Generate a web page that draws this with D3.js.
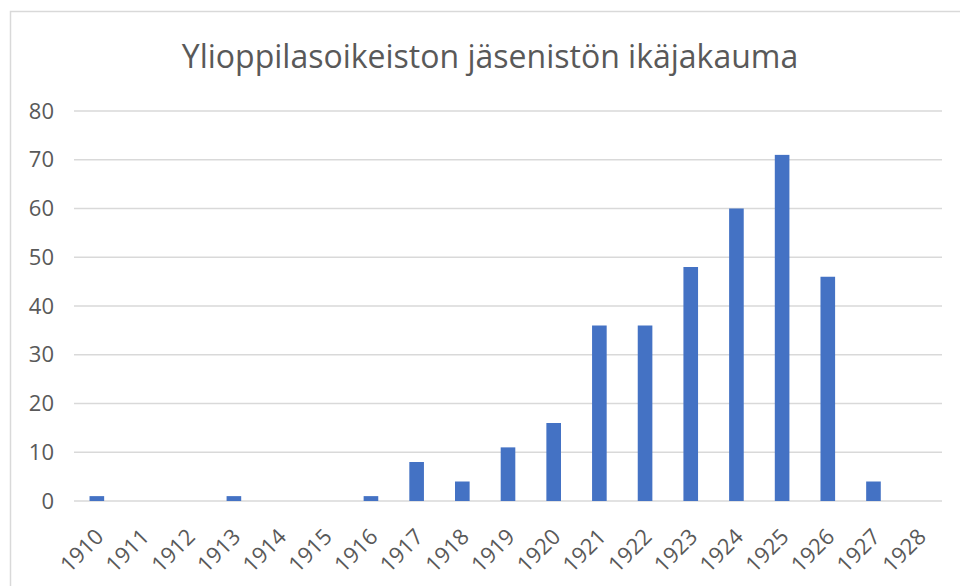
<!DOCTYPE html>
<html>
<head>
<meta charset="utf-8">
<script src="https://cdn.jsdelivr.net/npm/d3@7"></script>
<style>
  body { margin: 0; background: #fff; }
  svg { display: block; font-family: "Open Sans", "Noto Sans", sans-serif; }
</style>
</head>
<body>
<svg width="960" height="586"></svg>
<script>
var title = "Ylioppilasoikeiston jäsenistön ikäjakauma";
var years = ["1910", "1911", "1912", "1913", "1914", "1915", "1916", "1917", "1918", "1919",
    "1920", "1921", "1922", "1923", "1924", "1925", "1926", "1927", "1928"];
var counts = [1, 0, 0, 1, 0, 0, 1, 8, 4, 11, 16, 36, 36, 48, 60, 71, 46, 4, 0];
var yTicks = [0, 10, 20, 30, 40, 50, 60, 70, 80];

var svg = d3.select("svg");
var margin = {top: 111, right: 18, bottom: 85, left: 74};
var width = 960 - margin.left - margin.right;
var height = 586 - margin.top - margin.bottom;

// chart frame
svg.append("rect")
    .attr("x", 10.5).attr("y", 11.5)
    .attr("width", 960).attr("height", 600)
    .attr("fill", "none")
    .attr("stroke", "#d9d9d9")
    .attr("stroke-width", 1.5);

svg.append("text")
    .attr("x", 490).attr("y", 68)
    .attr("text-anchor", "middle")
    .attr("fill", "#595959")
    .attr("font-size", 32)
    .text(title);

var g = svg.append("g")
    .attr("transform", "translate(" + margin.left + "," + margin.top + ")");

var x = d3.scaleBand().domain(years).range([0, width]).paddingInner(0.68).paddingOuter(0.34);
var y = d3.scaleLinear().domain([0, 80]).range([height, 0]);

// gridlines
g.append("g")
    .selectAll("line")
    .data(yTicks)
    .enter()
    .append("line")
    .attr("x1", 0).attr("x2", width)
    .attr("y1", function (d) { return y(d); })
    .attr("y2", function (d) { return y(d); })
    .attr("stroke", "#d9d9d9")
    .attr("stroke-width", 1.5);

// y axis labels
var yAxis = d3.axisLeft(y).tickValues(yTicks).tickSize(0).tickPadding(20);
g.append("g")
    .call(yAxis)
    .call(function (s) { s.select(".domain").remove(); })
    .selectAll("text")
    .attr("fill", "#595959")
    .style("font-size", "22px")
    .attr("font-family", "\"Open Sans\", sans-serif");

// bars
g.append("g")
    .selectAll("rect")
    .data(counts)
    .enter()
    .append("rect")
    .attr("x", function (d, i) { return x(years[i]); })
    .attr("y", function (d) { return y(d); })
    .attr("width", x.bandwidth())
    .attr("height", function (d) { return height - y(d); })
    .attr("fill", "#4472c4");

// x axis labels, rotated
var xAxis = d3.axisBottom(x).tickSize(0);
var xg = g.append("g")
    .attr("transform", "translate(0," + height + ")")
    .call(xAxis);
xg.select(".domain").remove();
xg.selectAll("text")
    .attr("fill", "#595959")
    .style("font-size", "22px")
    .attr("font-family", "\"Open Sans\", sans-serif")
    .attr("text-anchor", "end")
    .attr("dy", "0")
    .attr("transform", "translate(6,35) rotate(-45)");
</script>
</body>
</html>
